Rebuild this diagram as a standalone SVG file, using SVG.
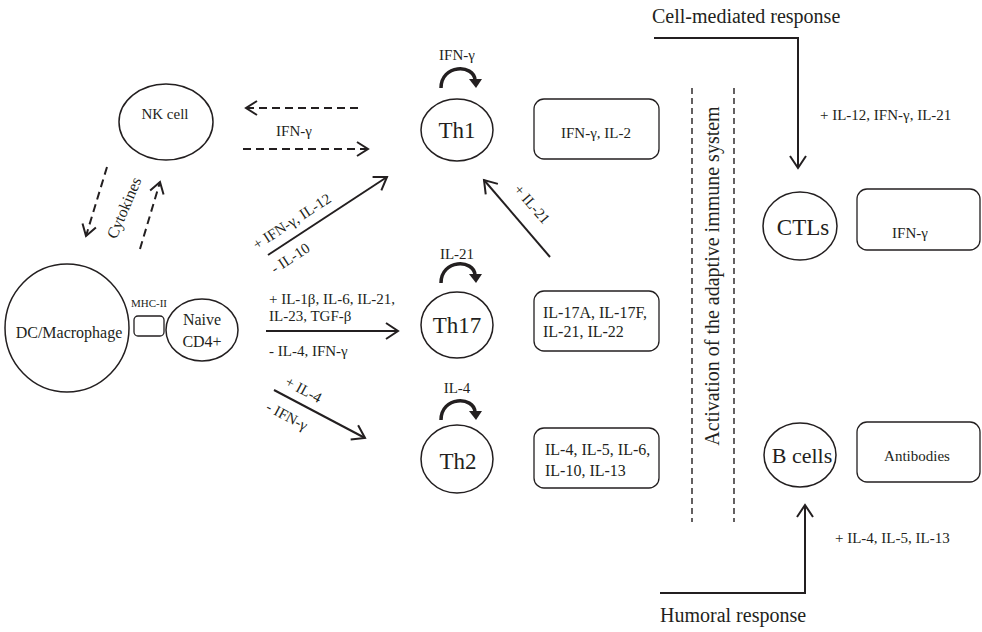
<svg xmlns="http://www.w3.org/2000/svg" width="982" height="632" viewBox="0 0 982 632">
<defs>
<style>
text{font-family:"Liberation Serif","Times New Roman",serif;fill:#231f20;}
.cell{fill:#fff;stroke:#231f20;stroke-width:1.5;}
.box{fill:#fff;stroke:#231f20;stroke-width:1.3;}
.ln{fill:none;stroke:#231f20;stroke-width:2;}
.dash{fill:none;stroke:#231f20;stroke-width:2;stroke-dasharray:8 5;}
.vdash{fill:none;stroke:#231f20;stroke-width:1.4;stroke-dasharray:6 4;}
.loop{fill:none;stroke:#231f20;stroke-width:3.5;}
.s15{font-size:15px;}
.s16{font-size:16px;}
.s20{font-size:20px;}
.big{font-size:23px;}
</style>
<marker id="ah" markerUnits="userSpaceOnUse" markerWidth="20" markerHeight="20" viewBox="0 0 20 20" refX="15" refY="10" orient="auto">
<path d="M3,2 L15,10 L3,18" fill="none" stroke="#231f20" stroke-width="2"/>
</marker>
<marker id="ahd" markerUnits="userSpaceOnUse" markerWidth="20" markerHeight="20" viewBox="0 0 20 20" refX="15" refY="10" orient="auto">
<path d="M4,3 L15,10 L4,17" fill="none" stroke="#231f20" stroke-width="2"/>
</marker>
</defs>

<g id="connectors">
<line class="dash" x1="358" y1="108" x2="246" y2="108" marker-end="url(#ahd)"/>
<line class="dash" x1="243" y1="149" x2="368" y2="149" marker-end="url(#ahd)"/>
<line class="dash" x1="107" y1="167" x2="86" y2="236" marker-end="url(#ahd)"/>
<line class="dash" x1="140" y1="249" x2="160" y2="182" marker-end="url(#ahd)"/>
<line class="ln" x1="268" y1="255" x2="387" y2="177" marker-end="url(#ah)"/>
<line class="ln" x1="266" y1="331" x2="398" y2="331" marker-end="url(#ah)"/>
<line class="ln" x1="274" y1="390" x2="365" y2="438" marker-end="url(#ah)"/>
<line class="ln" x1="550" y1="257" x2="484" y2="180" marker-end="url(#ah)"/>
<polyline class="ln" points="654,38 798,38 798,168" marker-end="url(#ah)"/>
<polyline class="ln" points="660,593 805,593 805,505" marker-end="url(#ah)"/>
<line class="vdash" x1="692" y1="88" x2="692" y2="522"/>
<line class="vdash" x1="734" y1="88" x2="734" y2="522"/>
<path class="loop" d="M441,88 C441,64 474,64 475,80"/>
<polygon points="469,79 482,79 476,88" fill="#231f20"/>
<path class="loop" d="M441,283 C441,259 474,259 475,275"/>
<polygon points="469,274 482,274 476,283" fill="#231f20"/>
<path class="loop" d="M441,420 C441,396 474,396 475,412"/>
<polygon points="469,411 482,411 476,420" fill="#231f20"/>
</g>

<g id="labels">
<text class="s15" x="294" y="136" text-anchor="middle">IFN-γ</text>
<text class="s16" transform="translate(129,210) rotate(-67)" text-anchor="middle">Cytokines</text>
<text class="s15" transform="translate(257,250) rotate(-33)">+ IFN-γ, IL-12</text>
<text class="s15" transform="translate(275,274) rotate(-33)">- IL-10</text>
<text class="s15" x="269" y="304">+ IL-1β, IL-6, IL-21,</text>
<text class="s15" x="269" y="321">IL-23, TGF-β</text>
<text class="s15" x="269" y="356">- IL-4, IFN-γ</text>
<text class="s15" transform="translate(284,385) rotate(28)">+ IL-4</text>
<text class="s15" transform="translate(265,410) rotate(28)">- IFN-γ</text>
<text class="s15" transform="translate(513,190) rotate(49)">+ IL-21</text>
<text class="s15" x="457" y="60" text-anchor="middle">IFN-γ</text>
<text class="s15" x="457" y="259" text-anchor="middle">IL-21</text>
<text class="s15" x="457" y="393" text-anchor="middle">IL-4</text>
<text class="s20" x="652" y="23">Cell-mediated response</text>
<text class="s15" x="820" y="120">+ IL-12, IFN-γ, IL-21</text>
<text class="s15" x="835" y="543">+ IL-4, IL-5, IL-13</text>
<text class="s20" x="660" y="622">Humoral response</text>
<text class="s20" transform="translate(719,276) rotate(-90)" text-anchor="middle">Activation  of the adaptive immune system</text>
</g>

<g id="nk">
<ellipse class="cell" cx="166" cy="122" rx="47" ry="38"/>
<text class="s15" x="165" y="119" text-anchor="middle">NK cell</text>
</g>
<g id="dc">
<ellipse class="cell" cx="67" cy="328" rx="62" ry="64"/>
<text class="s16" x="69" y="338" text-anchor="middle">DC/Macrophage</text>
</g>
<g id="mhc">
<rect class="box" x="134" y="316" width="30" height="20" rx="4"/>
<text x="149" y="307" text-anchor="middle" style="font-size:11px">MHC-II</text>
</g>
<g id="naive">
<ellipse class="cell" cx="202" cy="330" rx="36" ry="31"/>
<text class="s16" x="202" y="325" text-anchor="middle">Naive</text>
<text class="s16" x="202" y="347" text-anchor="middle">CD4+</text>
</g>
<g id="th1">
<ellipse class="cell" cx="457" cy="130" rx="36" ry="31"/>
<text class="big" x="457" y="138" text-anchor="middle">Th1</text>
</g>
<g id="th17">
<ellipse class="cell" cx="457" cy="325" rx="36" ry="33"/>
<text class="big" x="457" y="333" text-anchor="middle">Th17</text>
</g>
<g id="th2">
<ellipse class="cell" cx="457" cy="459" rx="36" ry="34"/>
<text class="big" x="458" y="469" text-anchor="middle">Th2</text>
</g>
<g id="th1-box">
<rect class="box" x="534" y="99" width="125" height="60" rx="10"/>
<text class="s15" x="596" y="138" text-anchor="middle">IFN-γ, IL-2</text>
</g>
<g id="th17-box">
<rect class="box" x="534" y="291" width="125" height="60" rx="10"/>
<text class="s16" x="543" y="318">IL-17A, IL-17F,</text>
<text class="s16" x="543" y="337">IL-21, IL-22</text>
</g>
<g id="th2-box">
<rect class="box" x="534" y="428" width="125" height="60" rx="10"/>
<text class="s16" x="545" y="455">IL-4, IL-5, IL-6,</text>
<text class="s16" x="545" y="476">IL-10, IL-13</text>
</g>
<g id="ctl">
<ellipse class="cell" cx="800" cy="226" rx="37" ry="34"/>
<text class="big" x="803" y="235" text-anchor="middle">CTLs</text>
</g>
<g id="ctl-box">
<rect class="box" x="857" y="189" width="123" height="61" rx="10"/>
<text class="s15" x="910" y="238" text-anchor="middle">IFN-γ</text>
</g>
<g id="bcells">
<ellipse class="cell" cx="800" cy="455" rx="36" ry="32"/>
<text style="font-size:22px" x="802" y="463" text-anchor="middle">B cells</text>
</g>
<g id="ab-box">
<rect class="box" x="857" y="422" width="123" height="60" rx="10"/>
<text class="s15" x="917" y="461" text-anchor="middle">Antibodies</text>
</g>
</svg>
